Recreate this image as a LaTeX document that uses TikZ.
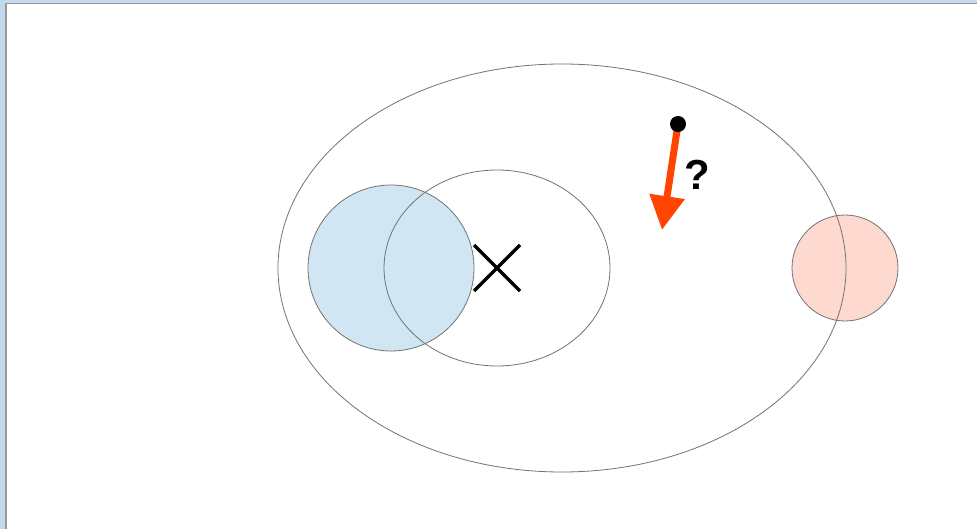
\documentclass[tikz,border=0pt]{standalone}
\usepackage{fontspec}
\setmainfont{Liberation Sans}
\usetikzlibrary{arrows.meta}
\definecolor{framebl}{HTML}{C5D9EE}
\definecolor{bluefill}{HTML}{D0E6F3}
\definecolor{pinkfill}{HTML}{FDD9CF}
\definecolor{arrorange}{HTML}{FF4500}
\begin{document}
\begin{tikzpicture}[x=1pt,y=-1pt,
  outl/.style={draw=black!55,line width=0.8pt},
  cross/.style={line width=3.4pt,black}]
\useasboundingbox (0,0) rectangle (977,529);
\fill[framebl] (0,0) rectangle (977,529);
\fill[white] (5,3) rectangle (977,529);
\draw[black!40,line width=1.5pt] (5.75,529) -- (5.75,3.75) -- (977,3.75);
% fills
\fill[bluefill] (391,268) circle (83);
\fill[pinkfill] (845,268) circle (53);
% outlines
\draw[outl] (391,268) circle (83);
\draw[outl] (845,268) circle (53);
\draw[outl] (497,268) ellipse (113 and 98);
\draw[outl] (562,268) ellipse (284 and 204);
% cross
\coordinate (xc) at (497,268);
\draw[cross] (474,245) -- (520,291);
\draw[cross] (474,291) -- (520,245);
% arrow
\coordinate (start) at (678,124);
\coordinate (tip) at (662,230);
\draw[arrorange,line width=7pt,-{Triangle[width=34pt,length=34pt]}] (start) -- (tip);
\node[circle,fill=black,inner sep=0pt,minimum size=16pt] (dot) at (start) {};
\node[font=\bfseries\fontsize{42}{42}\selectfont,inner sep=0pt] (q) at (697,175) {?};
\end{tikzpicture}
\end{document}
